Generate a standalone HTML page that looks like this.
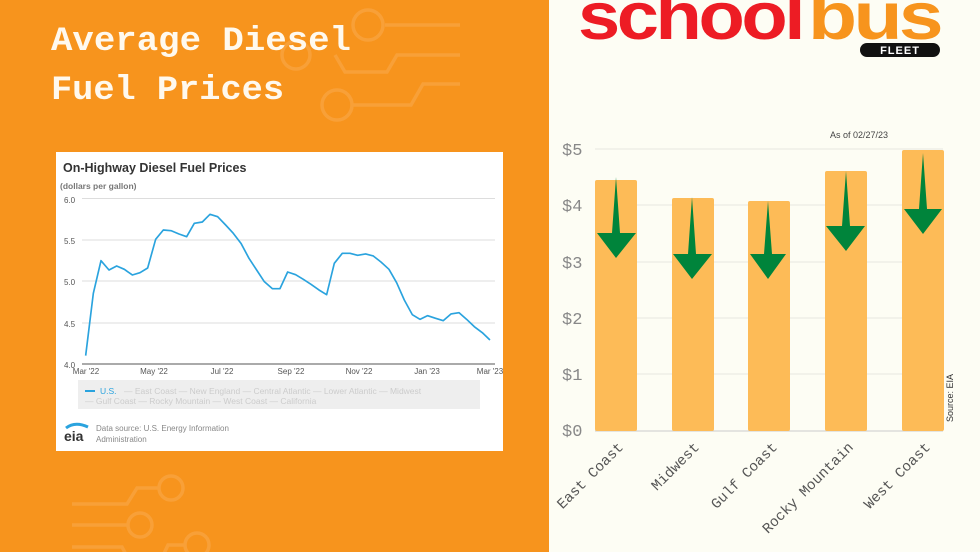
<!DOCTYPE html>
<html><head><meta charset="utf-8"><style>
body{margin:0;width:980px;height:552px;overflow:hidden;font-family:"Liberation Sans",sans-serif}
</style></head><body>
<svg width="980" height="552" viewBox="0 0 980 552" xmlns="http://www.w3.org/2000/svg">
<rect x="0" y="0" width="549" height="552" fill="#F7941D"/>
<rect x="549" y="0" width="431" height="552" fill="#FDFDF4"/>
<!-- circuits -->
<g stroke="#F8A038" stroke-width="3.5" fill="none">
<circle cx="368" cy="25" r="15"/><path d="M385 25H460"/>
<circle cx="296" cy="55" r="14"/><path d="M335 55L345 72H387L397 55H460"/>
<circle cx="337" cy="105" r="15"/><path d="M353 105H411L423 84H460"/>
<circle cx="171" cy="488" r="12"/><path d="M72 504H127L137 488H159"/>
<circle cx="140" cy="525" r="12"/><path d="M72 525H128"/>
<circle cx="197" cy="545" r="12"/><path d="M72 547H122L130 562M160 562L168 545H185"/>
</g>
<g font-family="Liberation Mono,monospace" font-weight="bold" font-size="34" fill="#FFF9EE">
<text x="51" y="50" textLength="300" lengthAdjust="spacingAndGlyphs">Average Diesel</text>
<text x="51" y="99" textLength="233" lengthAdjust="spacingAndGlyphs">Fuel Prices</text>
</g>
<!-- inner chart -->
<rect x="56" y="152" width="447" height="299" fill="#fff"/>
<text x="63" y="172" font-size="12.5" font-weight="bold" fill="#333">On-Highway Diesel Fuel Prices</text>
<text x="60" y="189" font-size="8.5" font-weight="bold" fill="#777">(dollars per gallon)</text>
<g stroke="#ddd" stroke-width="1"><path d="M82 198.5H495M82 240H495M82 281H495M82 323H495"/></g>
<path d="M82 364H495" stroke="#555" stroke-width="1"/>
<g font-size="8" fill="#555"><text x="64" y="203">6.0</text><text x="64" y="244">5.5</text><text x="64" y="285">5.0</text><text x="64" y="327">4.5</text><text x="64" y="368">4.0</text></g>
<g font-size="8" fill="#555" text-anchor="middle"><text x="86" y="374">Mar '22</text><text x="154" y="374">May '22</text><text x="222" y="374">Jul '22</text><text x="291" y="374">Sep '22</text><text x="359" y="374">Nov '22</text><text x="427" y="374">Jan '23</text><text x="490" y="374">Mar '23</text></g>
<polyline transform="translate(55,150) scale(0.3333)" fill="none" stroke="#2AA3DE" stroke-width="5" stroke-linejoin="round" points="92,617 115,430 138,332 162,360 185,348 208,358 232,375 255,368 278,354 302,268 325,240 348,242 372,252 395,260 418,220 442,216 465,193 488,200 512,225 535,250 558,280 582,325 605,360 628,395 652,416 675,416 698,366 722,374 745,388 768,403 792,420 815,434 838,340 862,310 885,310 908,316 932,312 955,318 978,336 1002,358 1025,398 1048,450 1072,494 1095,508 1118,497 1142,505 1165,512 1188,492 1212,488 1235,508 1258,530 1282,548 1305,570"/>
<rect x="78" y="380" width="402" height="29" fill="#eee"/>
<path d="M85 391H95" stroke="#2AA3DE" stroke-width="2"/>
<g font-size="8.5" fill="#ccc"><text x="100" y="394" fill="#2AA3DE">U.S.</text>
<text x="124" y="394">— East Coast — New England — Central Atlantic — Lower Atlantic — Midwest</text>
<text x="85" y="404">— Gulf Coast — Rocky Mountain — West Coast — California</text></g>
<text x="64" y="441" font-size="14" font-weight="bold" fill="#333">eia</text>
<path d="M66 428Q75 421 88 427" stroke="#2AA3DE" stroke-width="3" fill="none"/>
<g font-size="8" fill="#888"><text x="96" y="431">Data source: U.S. Energy Information</text><text x="96" y="442">Administration</text></g>
<!-- logo -->
<g font-family="Liberation Sans,sans-serif" font-weight="bold" font-size="67" letter-spacing="-3">
<text x="578" y="39" fill="#ED1C24" textLength="224" lengthAdjust="spacingAndGlyphs">school</text>
<text x="808" y="39" fill="#F7941D" textLength="132" lengthAdjust="spacingAndGlyphs">bus</text>
</g>
<rect x="860" y="43" width="80" height="14" rx="7" fill="#111"/>
<text x="900" y="54" font-size="11" font-weight="bold" fill="#fff" text-anchor="middle" letter-spacing="1">FLEET</text>
<!-- right chart -->
<text x="830" y="138" font-size="9" fill="#444">As of 02/27/23</text>
<g stroke="#e6e6e0" stroke-width="1"><path d="M595 149H943M595 205H943M595 262H943M595 318H943M595 374H943"/></g>
<path d="M595 431H943" stroke="#ccc" stroke-width="1"/>
<g font-family="Liberation Mono,monospace" font-size="17" fill="#888"><text x="562" y="155">$5</text><text x="562" y="211">$4</text><text x="562" y="268">$3</text><text x="562" y="324">$2</text><text x="562" y="380">$1</text><text x="562" y="436">$0</text></g>
<g fill="#FDBB57">
<rect x="595" y="180" width="42" height="251" rx="2"/>
<rect x="672" y="198" width="42" height="233" rx="2"/>
<rect x="748" y="201" width="42" height="230" rx="2"/>
<rect x="825" y="171" width="42" height="260" rx="2"/>
<rect x="902" y="150" width="42" height="281" rx="2"/>
</g>
<g fill="#00843B">
<polygon points="616,177 620,233 636,233 616,258 597,233 612,233"/>
<polygon points="692,197 696,254 712,254 692,279 673,254 688,254"/>
<polygon points="768,201 772,254 786,254 768,279 750,254 764,254"/>
<polygon points="846,171 850,226 865,226 846,251 826,226 842,226"/>
<polygon points="923,153 927,209 942,209 923,234 904,209 919,209"/>
</g>
<text transform="translate(953,422) rotate(-90)" font-size="9" fill="#333">Source: EIA</text>
<g font-family="Liberation Mono,monospace" font-size="14.5" fill="#555" text-anchor="end">
<text transform="translate(624,448) rotate(-45)">East Coast</text>
<text transform="translate(700,448) rotate(-45)">Midwest</text>
<text transform="translate(778,448) rotate(-45)">Gulf Coast</text>
<text transform="translate(854,448) rotate(-45)">Rocky Mountain</text>
<text transform="translate(931,448) rotate(-45)">West Coast</text>
</g>
</svg>
</body></html>
